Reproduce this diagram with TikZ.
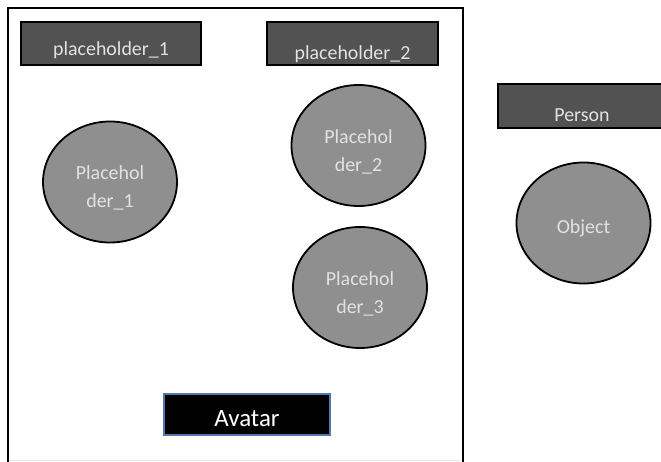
\documentclass[tikz,border=0pt]{standalone}
\usepackage{fontspec}
\setmainfont{Carlito}
\usetikzlibrary{shapes.geometric}
\definecolor{barfill}{HTML}{525252}
\definecolor{ballfill}{HTML}{8F8F8F}
\definecolor{textgray}{HTML}{E2E2E2}
\definecolor{avatarline}{HTML}{5079AE}
\definecolor{edgegray}{HTML}{E6E6E6}
\tikzset{
  bar/.style={draw=black, line width=1.8bp, fill=barfill, inner sep=0pt, minimum height=43bp},
  ball/.style={ellipse, draw=black, line width=1.8bp, fill=ballfill, inner sep=0pt,
    minimum width=134bp, minimum height=121bp},
  lbl/.style={text=textgray, font=\fontsize{20}{28}\selectfont, align=center, inner sep=0pt},
}
\begin{document}
\begin{tikzpicture}[x=1bp, y=-1bp]
			\useasboundingbox (0,0) rectangle (661,462);
			% frame
			\draw[line width=2bp] (7.5,480) |- (462.5,8) -- (462.5,480);
			\draw[edgegray, line width=1bp] (9,460.5) -- (461,460.5);
			%
			\node[bar, minimum width=180bp, label={[lbl,yshift=-7bp]center:placeholder\_1}]  (ph1)  at (111,43.5)	{};
			\node[bar, minimum width=171bp, label={[lbl,yshift=-11bp]center:placeholder\_2}] (ph2)  at (352.5,43.5)	{};
			\node[bar, minimum width=168bp, minimum height=44bp, label={[lbl,yshift=-9bp]center:Person}] (person) at (582,106)	{};
			\node[draw=avatarline, line width=1.4bp, fill=black, inner sep=0pt, minimum width=166bp, minimum height=41bp,
			      label={[lbl,text=white,font=\fontsize{25}{30}\selectfont,yshift=-4.5bp]center:Avatar}] (avatar) at (247,414.5) {};
			%
			\node[ball, label={[lbl,yshift=-5.5bp]center:Placehol\\der\_1}] (ball1)  at (110,182)	{};
			\node[ball, label={[lbl,yshift=-6bp]center:Placehol\\der\_2}]   (ball2)  at (358.5,145.5)	{};
			\node[ball, label={[lbl,yshift=-6bp]center:Placehol\\der\_3}]   (ball3)  at (360,287.5)	{};
			\node[ball, label={[lbl,yshift=-5.5bp]center:Object}]           (object) at (583.5,223)	{};
\end{tikzpicture}
\end{document}
